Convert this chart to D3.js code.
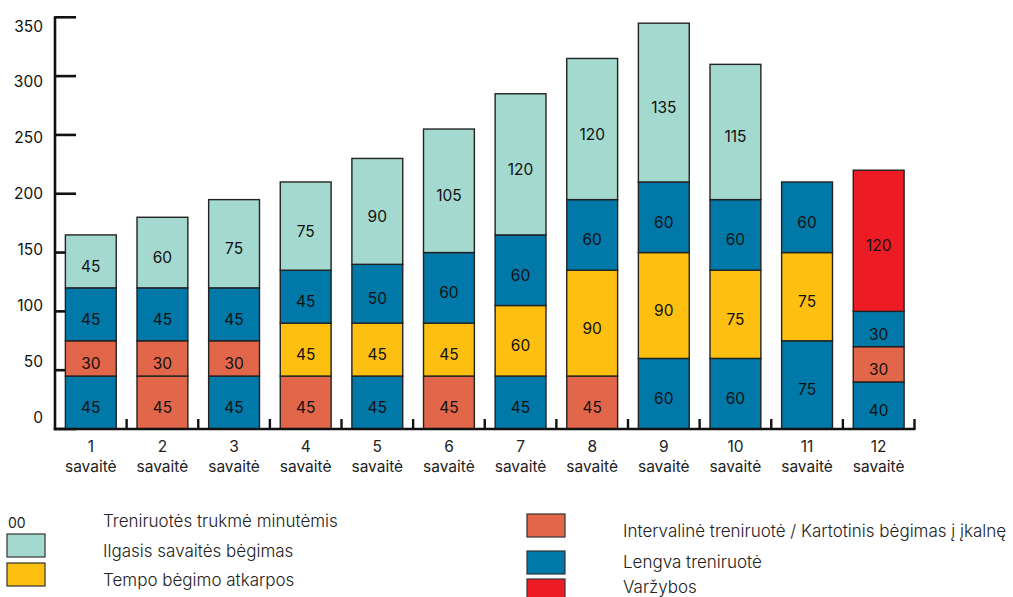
<!DOCTYPE html>
<html><head><meta charset="utf-8">
<script src="https://cdn.jsdelivr.net/npm/d3@7"></script>
<style>
html,body{margin:0;padding:0;background:#fff;}
svg{display:block;font-family:Inter, "Open Sans", sans-serif;}
</style></head>
<body>
<svg id="chart" width="1013" height="597"></svg>
<script>
const weeks = [1,2,3,4,5,6,7,8,9,10,11,12];
const weekWord = "savaitė";
const yTicks = [0,50,100,150,200,250,300,350];

// Stacked segments, bottom to top
const seg1 = [45,45,45,45,45,45,45,45,60,60,75,40];
const seg1Type = ["easy","interval","easy","interval","easy","interval","easy","interval","easy","easy","easy","easy"];
const seg2 = [30,30,30,45,45,45,60,90,90,75,75,30];
const seg2Type = ["interval","interval","interval","tempo","tempo","tempo","tempo","tempo","tempo","tempo","tempo","interval"];
const seg3 = [45,45,45,45,50,60,60,60,60,60,60,30];
const seg3Type = ["easy","easy","easy","easy","easy","easy","easy","easy","easy","easy","easy","easy"];
const seg4 = [45,60,75,75,90,105,120,120,135,115,0,120];
const seg4Type = ["long","long","long","long","long","long","long","long","long","long","long","race"];

const typeColor = {
  long: "#a4d9d0",
  tempo: "#fdc010",
  interval: "#e2674a",
  easy: "#0079a8",
  race: "#ed1c24"
};

const legendLeft = [
  {key:null, label:"Treniruotės trukmė minutėmis"},
  {key:"long", label:"Ilgasis savaitės bėgimas"},
  {key:"tempo", label:"Tempo bėgimo atkarpos"}
];
const legendRight = [
  {key:"interval", label:"Intervalinė treniruotė / Kartotinis bėgimas į įkalnę"},
  {key:"easy", label:"Lengva treniruotė"},
  {key:"race", label:"Varžybos"}
];

const svg = d3.select("#chart");
const x0 = 55, x1 = 914.5, yBase = 429, yTop = 17.3;

const x = d3.scaleBand().domain(weeks).range([x0, x1]).paddingInner(0.29).paddingOuter(0.145);
const y = d3.scaleLinear().domain([0,350]).range([yBase, yTop]);
const yLab = d3.scaleLinear().domain([0,350]).range([417, 26]);

// build segments
const segs = [[seg1,seg1Type],[seg2,seg2Type],[seg3,seg3Type],[seg4,seg4Type]];
const rects = [];
weeks.forEach((w,i)=>{
  let acc = 0;
  segs.forEach(([vals,types])=>{
    const v = vals[i];
    if(v>0){ rects.push({week:w, y0:acc, y1:acc+v, v:v, type:types[i]}); acc+=v; }
  });
});

// y ticks (under bars)
svg.append("g").selectAll("line").data(yTicks).join("line")
  .attr("x1", x0).attr("x2", x0+21)
  .attr("y1", d=>y(d)).attr("y2", d=>y(d))
  .attr("stroke","#111").attr("stroke-width",2.6);

// bars
svg.append("g").selectAll("rect").data(rects).join("rect")
  .attr("x", d=>x(d.week)).attr("width", x.bandwidth())
  .attr("y", d=>y(d.y1)).attr("height", d=>y(d.y0)-y(d.y1))
  .attr("fill", d=>typeColor[d.type])
  .attr("stroke","#222").attr("stroke-width",1.4);

svg.append("g").selectAll("text").data(rects).join("text")
  .attr("x", d=>x(d.week)+x.bandwidth()/2)
  .attr("y", d=>(y(d.y0)+y(d.y1))/2 + 5)
  .attr("text-anchor","middle").attr("dominant-baseline","central")
  .attr("font-size",15.5).attr("fill","#111")
  .text(d=>d.v);

// y axis line
svg.append("line").attr("x1",x0).attr("x2",x0).attr("y1",yTop-1).attr("y2",yBase+1.3)
  .attr("stroke","#111").attr("stroke-width",2.6);
// y labels
svg.append("g").selectAll("text").data(yTicks).join("text")
  .attr("x", 43).attr("y", d=>yLab(d))
  .attr("text-anchor","end").attr("dominant-baseline","central")
  .attr("font-size",15.5).attr("fill","#111").text(d=>d);

// x axis line
svg.append("line").attr("x1",x0-1.3).attr("x2",x1+1).attr("y1",yBase).attr("y2",yBase)
  .attr("stroke","#111").attr("stroke-width",2.6);
// x ticks at band boundaries
const step = x.step();
svg.append("g").selectAll("line").data(weeks).join("line")
  .attr("x1", d=>x(d)+x.bandwidth()+step*0.145).attr("x2", d=>x(d)+x.bandwidth()+step*0.145)
  .attr("y1", yBase).attr("y2", yBase-10)
  .attr("stroke","#111").attr("stroke-width",2.4);

// x labels
const xl = svg.append("g").selectAll("g").data(weeks).join("g")
  .attr("transform", d=>`translate(${x(d)+x.bandwidth()/2},0)`);
xl.append("text").attr("y",446).attr("text-anchor","middle").attr("dominant-baseline","central")
  .attr("font-size",15.5).attr("fill","#222").text(d=>d);
xl.append("text").attr("y",466).attr("text-anchor","middle").attr("dominant-baseline","central")
  .attr("font-size",15.5).attr("fill","#222").text(weekWord);

// legend
const lg1 = svg.append("g").selectAll("g").data(legendLeft).join("g")
  .attr("transform",(d,i)=>`translate(0,${[521,551,580][i]})`);
lg1.filter(d=>d.key).append("rect").attr("x",7).attr("y",-17).attr("width",38).attr("height",23)
  .attr("fill",d=>typeColor[d.key]).attr("stroke","#333").attr("stroke-width",1.2);
lg1.filter(d=>!d.key).append("text").attr("x",8).attr("y",1).attr("dominant-baseline","central")
  .attr("font-size",14).attr("fill","#222").text("00");
lg1.append("text").attr("x",103).attr("y",0).attr("dominant-baseline","central")
  .attr("font-size",17).attr("fill","#222").attr("font-weight",300).text(d=>d.label);

const lg2 = svg.append("g").selectAll("g").data(legendRight).join("g")
  .attr("transform",(d,i)=>`translate(0,${[531,562,587][i]})`);
lg2.append("rect").attr("x",527).attr("y",(d,i)=>[-17,-11,-8][i]).attr("width",38).attr("height",23)
  .attr("fill",d=>typeColor[d.key]).attr("stroke","#333").attr("stroke-width",1.2);
lg2.append("text").attr("x",623).attr("y",0).attr("dominant-baseline","central")
  .attr("font-size",17).attr("fill","#222").attr("font-weight",300).text(d=>d.label);
</script>
</body></html>
